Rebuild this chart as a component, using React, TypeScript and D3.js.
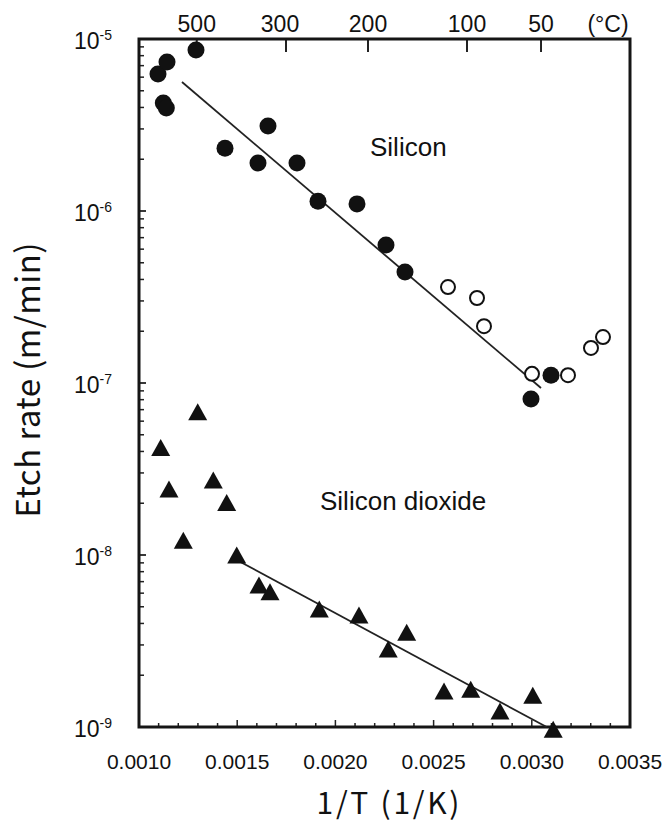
import React from "react";
import * as d3 from "d3";

// ---- data ----
const siFilledX = [0.0010967, 0.0011426, 0.0012902, 0.0011238, 0.0011391, 0.0014379, 0.0016568, 0.0016059, 0.0018045, 0.0019114, 0.00211, 0.0022576, 0.0023544, 0.0029959, 0.0030978];
const siFilledY = [6.26e-6, 7.35e-6, 8.63e-6, 4.25e-6, 3.97e-6, 2.32e-6, 3.12e-6, 1.9e-6, 1.9e-6, 1.14e-6, 1.1e-6, 6.34e-7, 4.42e-7, 8.07e-8, 1.11e-7];

const siOpenX = [0.0025733, 0.002721, 0.0027566, 0.003001, 0.0031843, 0.0033014, 0.0033625];
const siOpenY = [3.61e-7, 3.12e-7, 2.14e-7, 1.13e-7, 1.11e-7, 1.6e-7, 1.85e-7];

const sio2X = [0.0011105, 0.0012989, 0.0011527, 0.0013783, 0.0014465, 0.0012256, 0.0014975, 0.001611, 0.001667, 0.001918, 0.00212, 0.002269, 0.002363, 0.002553, 0.002689, 0.002838, 0.003005, 0.003109];
const sio2Y = [4.21e-8, 6.81e-8, 2.42e-8, 2.73e-8, 2.02e-8, 1.22e-8, 1.0e-8, 6.7e-9, 6.12e-9, 4.86e-9, 4.48e-9, 2.84e-9, 3.55e-9, 1.62e-9, 1.66e-9, 1.24e-9, 1.53e-9, 9.7e-10];

const siFitX = [0.0012189, 0.0030468];
const siFitY = [5.62e-6, 9.35e-8];
const sio2FitX = [0.0015143, 0.0030758];
const sio2FitY = [9.14e-9, 1.0e-9];

const bottomTicks = [0.001, 0.0015, 0.002, 0.0025, 0.003, 0.0035];
const bottomTickLabels = ["0.0010", "0.0015", "0.0020", "0.0025", "0.0030", "0.0035"];
const yExponents = [-5, -6, -7, -8, -9];
const topTickLabels = ["500", "300", "200", "100", "50"];
const topTickPos = [0.001294, 0.0017485, 0.002166, 0.00267, 0.003047];

const W = 665;
const H = 825;
const L = 139, R = 630, T = 39, B = 727;

export default function App() {
  const x = d3.scaleLinear().domain([0.001, 0.0035]).range([L, R]);
  const y = d3.scaleLog().domain([1e-5, 1e-9]).range([T, B]);

  const minorX = d3.range(10, 36).map((i) => i / 10000);
  const minorY: number[] = [];
  for (let e = -9; e < -5; e++) {
    for (let m = 2; m <= 9; m++) minorY.push(m * Math.pow(10, e));
  }

  const line = d3
    .line<[number, number]>()
    .x((d) => x(d[0]))
    .y((d) => y(d[1]));

  const tri = (cx: number, cy: number) => {
    const w = 19, h = 17;
    return `M${cx},${cy - h / 2}L${cx + w / 2},${cy + h / 2}L${cx - w / 2},${cy + h / 2}Z`;
  };

  const sans = "'Liberation Sans', Arial, Helvetica, sans-serif";
  const title = "'Noto Sans CJK JP', 'Liberation Sans', sans-serif";

  return (
    <svg width={W} height={H} style={{ position: "absolute", left: 0, top: 0, background: "#fff" }} fontFamily={sans}>
      <rect x={0} y={0} width={W} height={H} fill="#fff" />
      {/* minor ticks left */}
      {minorY.map((v, i) => (
        <line key={"my" + i} x1={L} x2={L + 5} y1={y(v)} y2={y(v)} stroke="#222" strokeWidth={1.5} />
      ))}
      {yExponents.map((e) => (
        <line key={"My" + e} x1={L} x2={L + 7} y1={y(Math.pow(10, e))} y2={y(Math.pow(10, e))} stroke="#222" strokeWidth={1.8} />
      ))}
      {/* bottom ticks */}
      {minorX.map((v, i) => (
        <line key={"mx" + i} x1={x(v)} x2={x(v)} y1={B} y2={B - (i % 5 === 0 ? 7 : 4)} stroke="#222" strokeWidth={1.5} />
      ))}
      {/* top celsius ticks */}
      {topTickPos.map((v, i) => (
        <line key={"tt" + i} x1={x(v)} x2={x(v)} y1={T} y2={T + 13} stroke="#222" strokeWidth={2} />
      ))}
      {/* frame */}
      <rect x={L} y={T} width={R - L} height={B - T} fill="none" stroke="#151515" strokeWidth={3} />

      {/* fit lines */}
      <path d={line(siFitX.map((v, i) => [v, siFitY[i]]) as any) || ""} stroke="#222" strokeWidth={1.8} fill="none" />
      <path d={line(sio2FitX.map((v, i) => [v, sio2FitY[i]]) as any) || ""} stroke="#222" strokeWidth={1.8} fill="none" />

      {/* points */}
      {siFilledX.map((v, i) => (
        <circle key={"sf" + i} cx={x(v)} cy={y(siFilledY[i])} r={8.5} fill="#111" />
      ))}
      {siOpenX.map((v, i) => (
        <circle key={"so" + i} cx={x(v)} cy={y(siOpenY[i])} r={7} fill="#fff" stroke="#111" strokeWidth={2} />
      ))}
      {sio2X.map((v, i) => (
        <path key={"t" + i} d={tri(x(v), y(sio2Y[i]))} fill="#111" />
      ))}

      {/* bottom tick labels */}
      {bottomTicks.map((v, i) => (
        <text key={"bl" + i} x={x(v)} y={769} textAnchor="middle" fontSize={21} fill="#111">
          {bottomTickLabels[i]}
        </text>
      ))}
      {/* top tick labels */}
      {topTickPos.map((v, i) => (
        <text key={"tl" + i} x={x(v) - (i === 1 ? 6 : 0)} y={32} textAnchor="middle" fontSize={23} fill="#111">
          {topTickLabels[i]}
        </text>
      ))}
      <text x={608} y={32} textAnchor="middle" fontSize={23} fill="#111">(°C)</text>

      {/* left tick labels */}
      {yExponents.map((e) => (
        <text key={"yl" + e} x={112} y={y(Math.pow(10, e)) + 10} textAnchor="end" fontSize={23} fill="#111">
          10<tspan dy={-9} fontSize={14}>{String(e)}</tspan>
        </text>
      ))}

      {/* series labels */}
      <text x={370} y={156} fontSize={26} fill="#111">Silicon</text>
      <text x={320} y={510} fontSize={26} fill="#111">Silicon dioxide</text>

      {/* axis titles */}
      <text
        x={0}
        y={0}
        transform={`translate(40,380) rotate(-90)`}
        textAnchor="middle"
        fontSize={33}
        fontFamily={title}
        textLength={275}
        lengthAdjust="spacing"
        fill="#111"
      >
        Etch rate (m/min)
      </text>
      <text
        x={388}
        y={814}
        textAnchor="middle"
        fontSize={30}
        fontFamily={title}
        textLength={143}
        lengthAdjust="spacing"
        fill="#111"
      >
        1/T (1/K)
      </text>
    </svg>
  );
}
